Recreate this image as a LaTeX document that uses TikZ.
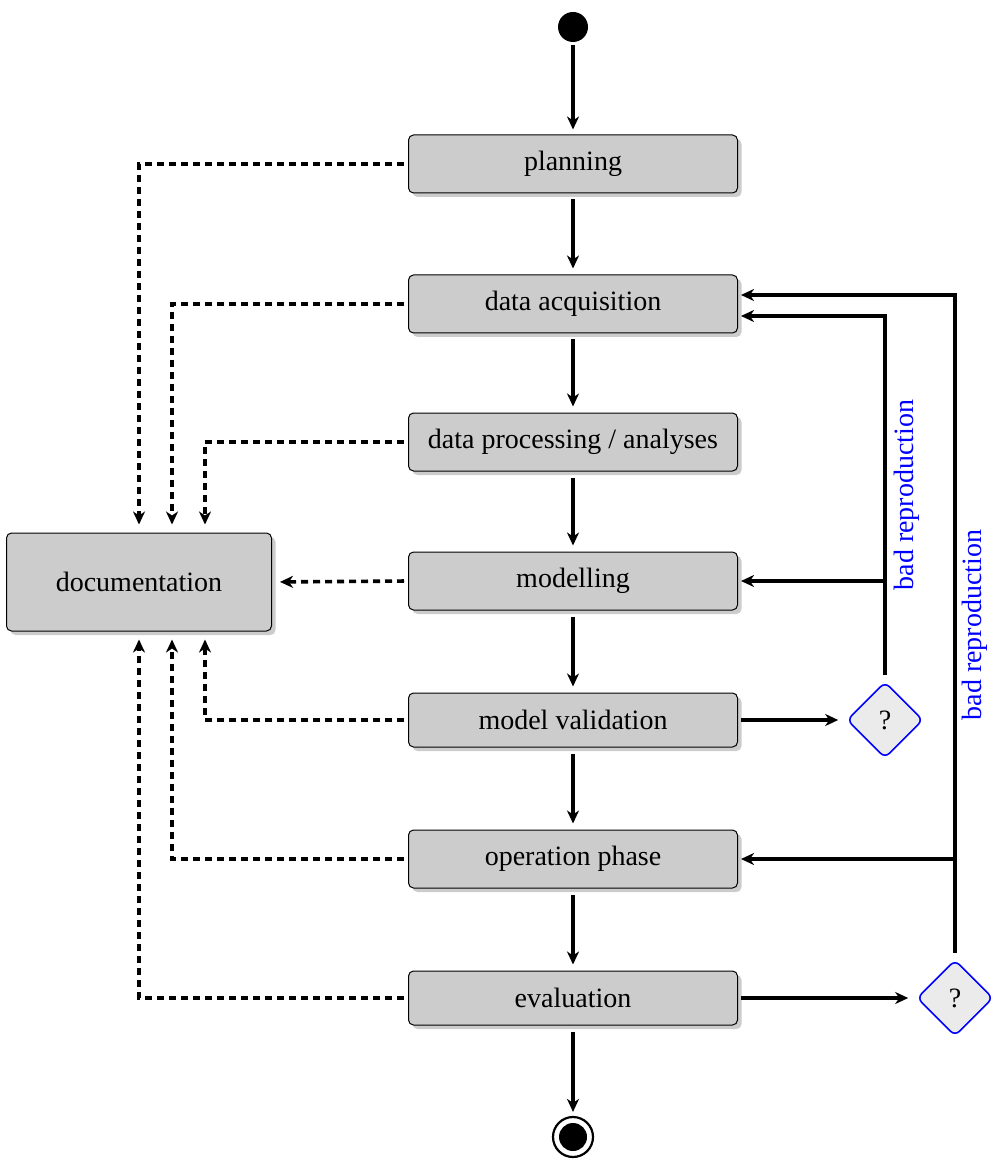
\documentclass[tikz,border=0pt]{standalone}
\usepackage{fontspec}
\setmainfont{Liberation Serif}
\usetikzlibrary{arrows.meta,shapes.geometric,shadows,calc}
\definecolor{boxgray}{gray}{0.8}
\definecolor{shadowgray}{gray}{0.8}
\definecolor{diagray}{gray}{0.92}
\tikzset{
  stepbox/.style={draw, rounded corners=2.5pt, fill=boxgray, line width=0.5pt,
    minimum width=164.5pt, minimum height=29pt, inner sep=0pt,
    font=\fontsize{14}{17}\selectfont,
    drop shadow={shadow xshift=2pt, shadow yshift=-2pt, fill=shadowgray, opacity=1}},
  docbox/.style={stepbox, minimum width=132.5pt, minimum height=49pt},
  decision/.style={diamond, draw=blue, fill=diagray, line width=0.8pt, rounded corners=3pt,
    minimum size=38pt, inner sep=0pt, font=\fontsize{14}{17}\selectfont},
  flow/.style={line width=1.8pt, -{Stealth[length=6.5pt,width=6pt,inset=2pt]}},
  docflow/.style={line width=1.8pt, dash pattern=on 3.5pt off 2.5pt, -{Stealth[length=6.5pt,width=6pt,inset=2pt]},
    shorten >=4pt, shorten <=2pt},
  lbl/.style={blue, rotate=90, font=\fontsize{14}{17}\selectfont}
}
\begin{document}
\begin{tikzpicture}[x=0.5pt,y=-0.5pt]
\useasboundingbox (0,0) rectangle (996,1170);
% start / end
\node[circle, fill=black, minimum size=15pt, inner sep=0pt] (start) at (573,27) {};
\node[circle, draw=black, line width=1.1pt, minimum size=20pt, inner sep=0pt] (end) at (573,1137) {};
\node[circle, fill=black, minimum size=14pt, inner sep=0pt] (endin) at (573,1137) {};
% steps
\node[stepbox] (plan) at (573,164) {planning};
\node[stepbox] (dacq) at (573,304) {data acquisition};
\node[stepbox] (dproc) at (573,442) {data processing / analyses};
\node[stepbox] (model) at (573,581) {modelling};
\node[stepbox, minimum height=27pt] (mval) at (573,720) {model validation};
\node[stepbox] (oper) at (573,859) {operation phase};
\node[stepbox, minimum height=27pt] (eval) at (573,998) {evaluation};
\node[docbox] (doc) at (139,582) {documentation};
% decisions
\node[decision] (d1) at (885,720) {?};
\node[decision] (d2) at (955,998) {?};
% main flow
\draw[flow, shorten <=1.5pt, shorten >=2.5pt] (start) -- (plan);
\draw[flow, shorten <=3pt, shorten >=3pt] (plan) -- (dacq);
\draw[flow, shorten <=3pt, shorten >=3pt] (dacq) -- (dproc);
\draw[flow, shorten <=3pt, shorten >=3pt] (dproc) -- (model);
\draw[flow, shorten <=3pt, shorten >=3pt] (model) -- (mval);
\draw[flow, shorten <=3pt, shorten >=3pt] (mval) -- (oper);
\draw[flow, shorten <=3pt, shorten >=3pt] (oper) -- (eval);
\draw[flow, shorten <=3pt, shorten >=2pt] (eval) -- (end);
% documentation
\draw[docflow] (plan.west) -| (doc.north);
\draw[docflow] (dacq.west) -| ([xshift=16.5pt]doc.north);
\draw[docflow] (dproc.west) -| ([xshift=33pt]doc.north);
\draw[docflow] (model.west) -- (doc.east);
\draw[docflow] (mval.west) -| ([xshift=33pt]doc.south);
\draw[docflow] (oper.west) -| ([xshift=16.5pt]doc.south);
\draw[docflow] (eval.west) -| (doc.south);
% decisions
\draw[flow, shorten <=1.5pt, shorten >=4pt] (mval) -- (d1);
\draw[flow, shorten <=1.5pt, shorten >=4pt] (eval) -- (d2);
\draw[flow, shorten <=3pt, shorten >=1.5pt] (d1.north) |- ([yshift=-6pt]dacq.east);
\draw[flow, shorten >=1.5pt] (d1.north |- model.east) -- (model.east);
\draw[flow, shorten <=3pt, shorten >=1.5pt] (d2.north) |- ([yshift=4.5pt]dacq.east);
\draw[flow, shorten >=1.5pt] (d2.north |- oper.east) -- (oper.east);
\node[lbl] (l1) at (907,495) {bad reproduction};
\node[lbl] (l2) at (975,625) {bad reproduction};
\end{tikzpicture}
\end{document}
